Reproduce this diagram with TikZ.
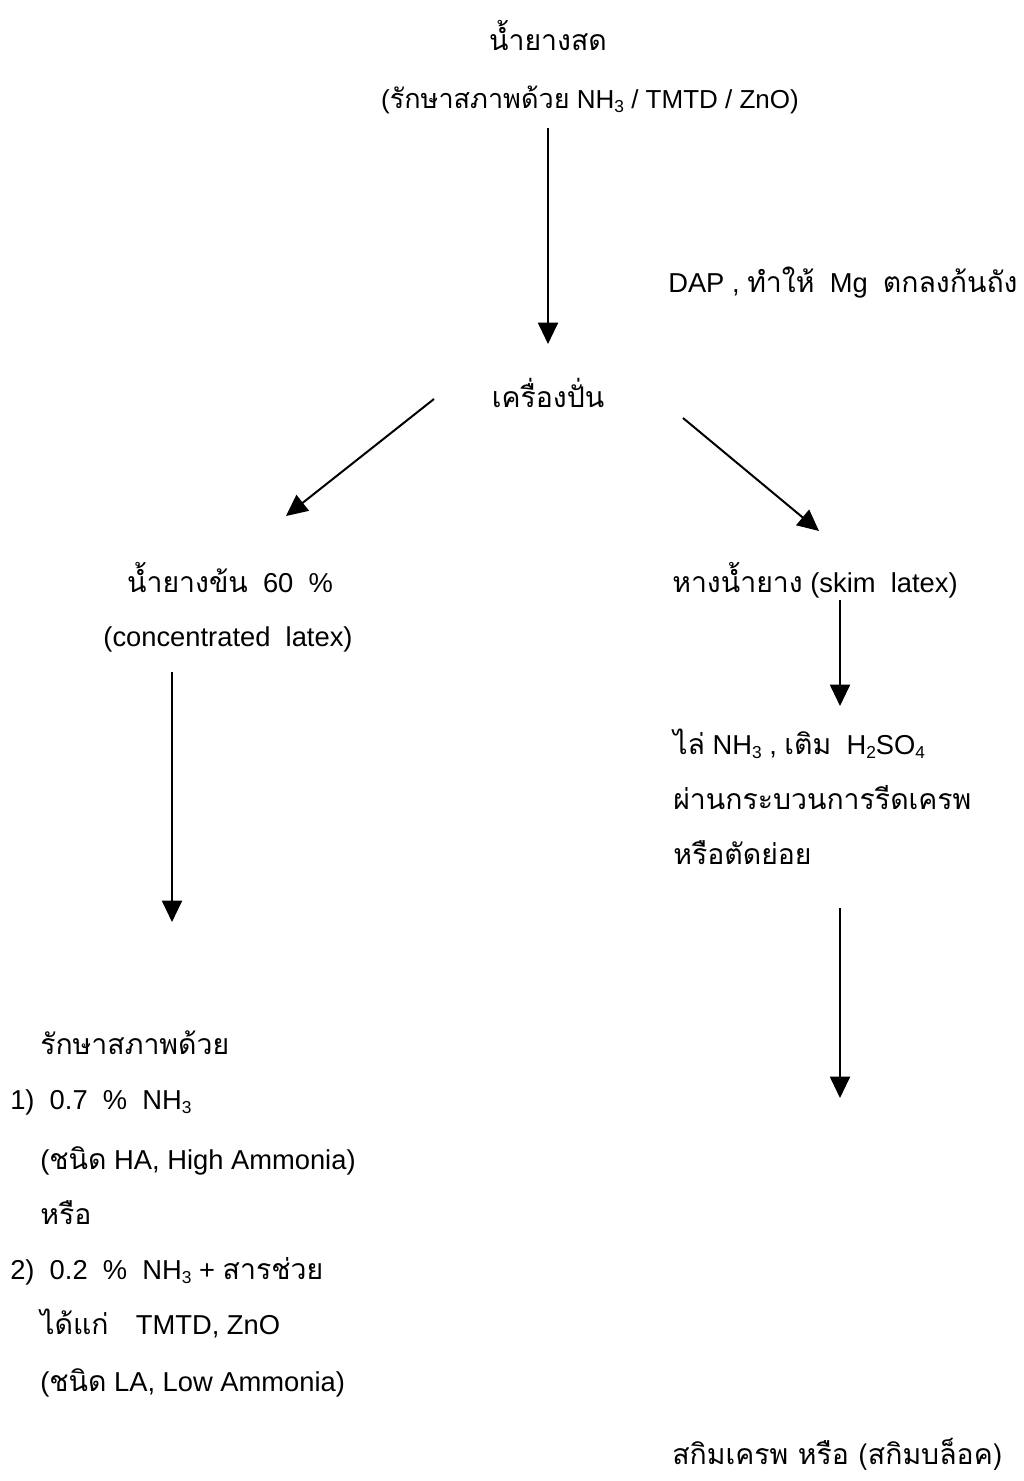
\documentclass[tikz,border=0pt]{standalone}
\usepackage{fontspec}
\setmainfont{Liberation Sans}
\newfontfamily\thaifont[Script=Thai,Scale=1.04]{Loma}
\usetikzlibrary{arrows.meta}
\newcommand\T[1]{{\thaifont #1}}
\newcommand\subs[1]{\raisebox{-0.32ex}{\fontsize{13}{13}\selectfont #1}}
\tikzset{
  lbl/.style={inner sep=0pt, font=\fontsize{20.5}{24}\selectfont},
  lft/.style={lbl, anchor=base west},
  ctr/.style={lbl, anchor=base},
  arr/.style={line width=1.5pt, -{Triangle[length=16pt,width=15pt]}}
}
\begin{document}
\begin{tikzpicture}[x=0.75pt,y=-0.75pt]
\useasboundingbox (0,0) rectangle (1024,1481);
% nodes
\node[ctr] (fresh) at (548,50) {\T{น้ำยางสด}};
\node[ctr, font=\fontsize{19.5}{22}\selectfont] (pres) at (590,108) {(\T{รักษาสภาพด้วย}\ NH\subs{3} / TMTD / ZnO)};
\node[lft] (dap) at (668,292) {DAP , \T{ทำให้}\ \ Mg\ \ \T{ตกลงก้นถัง}};
\node[ctr] (spin) at (548,407) {\T{เครื่องปั่น}};
\node[ctr] (conc) at (230,592) {\T{น้ำยางข้น}\ \ 60\ \ \%};
\node[ctr] (conc2) at (228,646) {(concentrated\ \ latex)};
\node[lft] (skim) at (672,592) {\T{หางน้ำยาง} (skim\ \ latex)};
\node[lft] (rm1) at (673,754) {\T{ไล่} NH\subs{3} , \T{เติม}\ \ H\subs{2}SO\subs{4}};
\node[lft] (rm2) at (673,809) {\T{ผ่านกระบวนการรีดเครพ}};
\node[lft] (rm3) at (673,864) {\T{หรือตัดย่อย}};
\node[lft] (l1) at (40,1054) {\T{รักษาสภาพด้วย}};
\node[lft] (l2) at (10,1109) {1)\ \ 0.7\ \ \%\ \ NH\subs{3}};
\node[lft] (l3) at (40,1169) {(\T{ชนิด} HA, High Ammonia)};
\node[lft] (l4) at (40,1224) {\T{หรือ}};
\node[lft] (l5) at (10,1279) {2)\ \ 0.2\ \ \%\ \ NH\subs{3} + \T{สารช่วย}};
\node[lft] (l6) at (40,1334) {\T{ได้แก่}\quad TMTD, ZnO};
\node[lft] (l7) at (40,1391) {(\T{ชนิด} LA, Low Ammonia)};
\node[lft] (crepe) at (672,1464) {\T{สกิมเครพ หรือ (สกิมบล็อค)}};
% connector end points
\coordinate (a1) at (548,128);  \coordinate (a2) at (548,344);
\coordinate (b1) at (434,399);  \coordinate (b2) at (286,516);
\coordinate (c1) at (683,418);  \coordinate (c2) at (819,531);
\coordinate (d1) at (840,600);  \coordinate (d2) at (840,706);
\coordinate (e1) at (172,672);  \coordinate (e2) at (172,922);
\coordinate (f1) at (840,908);  \coordinate (f2) at (840,1098);
% connectors
\draw[arr] (a1) -- (a2);
\draw[arr] (b1) -- (b2);
\draw[arr] (c1) -- (c2);
\draw[arr] (d1) -- (d2);
\draw[arr] (e1) -- (e2);
\draw[arr] (f1) -- (f2);
\end{tikzpicture}
\end{document}
